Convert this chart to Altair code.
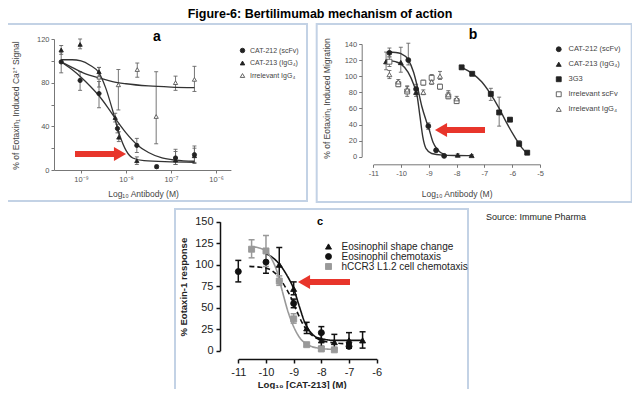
import altair as alt
import pandas as pd

FONT = "Liberation Sans"
W, H = 624, 381
RED = "#e8352b"
BOX = "#c3d2e5"

# ---------------- Panel a data ----------------
a_names = ["CAT-212 (scFv)", "CAT-213 (IgG₄)", "Irrelevant IgG₄"]
a1_x = [-9.44, -9.02, -8.6, -8.19, -7.76, -7.32, -6.9, -6.48]
a1_y = [99, 82, 70, 38, 22.5, 3, 11, 14]
a1_lo = [89, 73, 57, 34, 16, 1.5, 5, 6]
a1_hi = [108, 90, 81, 42, 29, 4.5, 19, 22]
a2_x = [-9.44, -9.02, -8.6, -8.24, -8.16, -7.76, -6.9, -6.48]
a2_y = [110, 115, 90, 48, 30, 8.5, 9, 13]
a2_lo = [106, 111, 86, 44, 26, 5, 5, 7]
a2_hi = [114, 120, 94, 52, 35, 12, 17, 20]
a3_x = [-8.6, -8.17, -7.75, -7.33, -6.9, -6.48]
a3_y = [85, 78, 92, 49, 80, 83]
a3_lo = [76, 55, 85, 24, 73, 72]
a3_hi = [94, 92, 98, 90, 86, 95]
# fitted curves
a1c_x = [-9.44, -9.2, -9.0, -8.8, -8.6, -8.4, -8.2, -8.0, -7.75, -7.5, -7.2, -6.9, -6.48]
a1c_y = [99, 92, 85, 77, 68, 57, 45, 34, 23, 16, 11, 9, 8]
a2c_x = [-9.44, -9.2, -9.0, -8.8, -8.6, -8.45, -8.3, -8.15, -8.0, -7.85, -7.6, -7.0, -6.48]
a2c_y = [101, 101, 100, 96, 89, 75, 55, 33, 18, 11, 8.5, 7.5, 7]
a3c_x = [-9.44, -9.2, -8.9, -8.6, -8.3, -8.0, -7.5, -7.0, -6.48]
a3c_y = [99, 94, 88, 84.5, 81, 79, 77, 76, 75.5]

# ---------------- Panel b data ----------------
b_names = ["CAT-212 (scFv)", "CAT-213 (IgG₄)", "3G3", "Irrelevant scFv", "Irrelevant IgG₄"]
b1_x = [-10.42, -9.74, -9.46, -9.02, -8.74, -8.45]
b1_y = [129, 120, 84, 38, 8, 1]
b1_lo = [124, 114, 78, 34, 6, 0]
b1_hi = [135, 141, 90, 42, 10, 3]
b2_x = [-10.54, -10.01, -9.46, -7.96, -7.46]
b2_y = [118, 117, 80, 2, 1.5]
b2_lo = [108, 105, 75, 0.5, 0.5]
b2_hi = [130, 136, 86, 3.5, 2.5]
b3_x = [-7.82, -7.44, -6.77, -6.47, -6.08, -5.75, -5.46]
b3_y = [111, 103, 78, 55, 46, 16, 5]
b3_lo = [109, 101, 70, 38, 44, 14, 3]
b3_hi = [113, 105, 85, 74, 48, 20, 7]
b4_x = [-10.42, -10.1, -9.78, -9.2, -8.9, -8.6, -8.3, -8.0]
b4_y = [118, 90, 81, 92, 98, 87, 75, 69]
b4_lo = [112, 87, 75, 89, 94, 84, 72, 66]
b4_hi = [124, 93, 88, 95, 102, 90, 80, 72]
b5_x = [-10.42, -10.1, -9.78, -9.2, -8.9, -8.6, -8.3, -8.0]
b5_y = [102, 93, 83, 80, 93, 100, 77, 72]
b5_lo = [97, 90, 79, 77, 90, 96, 73, 69]
b5_hi = [107, 96, 87, 83, 96, 106, 82, 75]
b1c_x = [-10.45, -10.2, -10.0, -9.75, -9.55, -9.4, -9.25, -9.1, -9.0, -8.85, -8.7, -8.45]
b1c_y = [130, 129.5, 128, 121, 105, 85, 62, 45, 35, 18, 9, 3]
b2c_x = [-10.55, -10.2, -10.0, -9.75, -9.55, -9.42, -9.32, -9.22, -9.1, -8.9, -8.5, -8.0, -7.46]
b2c_y = [120, 118, 115, 105, 90, 75, 50, 25, 10, 4, 2, 1.5, 1.3]
b3c_x = [-7.82, -7.44, -7.1, -6.8, -6.5, -6.2, -5.9, -5.65, -5.46]
b3c_y = [111, 103.5, 93, 79, 62, 42, 24, 11, 4]

# ---------------- Panel c data ----------------
c_names = ["Eosinophil shape change", "Eosinophil chemotaxis", "hCCR3 L1.2 cell chemotaxis"]
c1_x = [-9.52, -9.0, -8.53, -8.0, -7.53, -7.0, -6.51]
c1_y = [100, 72, 26, 12, 10, 12, 12]
c1_lo = [81, 65, 20, 5, 2, 3, 3]
c1_hi = [120, 80, 33, 20, 19, 21, 22]
c2_x = [-11.0, -10.0, -9.0, -8.0, -7.0]
c2_y = [92, 103, 55, 21, 5]
c2_lo = [80, 90, 50, 13, 3]
c2_hi = [105, 116, 60, 28, 8]
c3_x = [-10.52, -10.0, -9.52, -9.0, -8.53, -8.0, -7.53]
c3_y = [118, 116, 81, 37, 7, 2, 1]
c3_lo = [108, 98, 76, 32, 5, 0, 0]
c3_hi = [129, 134, 87, 43, 9, 4, 3]
c1c_x = [-10.0, -9.75, -9.5, -9.25, -9.0, -8.8, -8.6, -8.4, -8.2, -8.0, -7.5, -7.0, -6.5]
c1c_y = [113, 108, 100, 88, 72, 52, 33, 22, 16, 14, 12, 12, 12]
c2c_x = [-10.6, -10.2, -9.9, -9.6, -9.3, -9.1, -8.9, -8.7, -8.5, -8.2, -8.0, -7.5, -7.0]
c2c_y = [98, 97, 95, 88, 74, 62, 47, 33, 23, 15, 12, 9, 8]
c3c_x = [-10.52, -10.2, -10.0, -9.8, -9.6, -9.4, -9.2, -9.0, -8.8, -8.5, -8.0, -7.5]
c3c_y = [121, 119, 116, 107, 92, 68, 45, 28, 16, 7, 2.5, 1.5]


def pts_df(names, xs, ys, los, his):
    frames = [pd.DataFrame({"series": n, "x": x, "y": y, "lo": lo, "hi": hi})
              for n, x, y, lo, hi in zip(names, xs, ys, los, his)]
    return pd.concat(frames, ignore_index=True)


def cap_df(pdf):
    lo = pdf[["series", "x", "lo"]].rename(columns={"lo": "cap"})
    hi = pdf[["series", "x", "hi"]].rename(columns={"hi": "cap"})
    return pd.concat([lo, hi], ignore_index=True)


def curve_df(names, xs, ys):
    frames = [pd.DataFrame({"series": n, "x": x, "y": y}) for n, x, y in zip(names, xs, ys)]
    return pd.concat(frames, ignore_index=True)


def axis_style(small=True):
    if small:
        return dict(grid=False, labelFont=FONT, labelFontSize=7.5, labelColor="#555",
                    domainColor="#777", tickColor="#777", tickSize=3, labelPadding=2,
                    titleFont=FONT, titleFontSize=8.5, titleColor="#444",
                    titleFontWeight="normal", titleBaseline="middle",
                    labelFlush=False, labelOverlap=False, labelBound=False)
    return dict(grid=False, labelFont=FONT, labelFontSize=11, labelColor="#222",
                domainColor="#111", tickColor="#111", tickSize=4, domainWidth=1.5,
                tickWidth=1.5, labelPadding=3, titleFont=FONT, titleFontSize=9.5,
                titleColor="#222", titleFontWeight="bold", titleBaseline="middle",
                labelFlush=False, labelOverlap=False, labelBound=False)


def panel(pdf, cdf, xsc, xax, ysc, yax, shape, fill, stroke, psize, capw,
          err_color, err_w, line_layers):
    X = alt.X("x:Q", scale=xsc, axis=xax)
    rules = alt.Chart(pdf).mark_rule(color=err_color, strokeWidth=err_w).encode(
        x=X, y=alt.Y("lo:Q", scale=ysc, axis=yax), y2="hi:Q")
    caps = alt.Chart(cap_df(pdf)).mark_tick(orient="horizontal", size=capw, thickness=err_w,
                                            color=err_color, opacity=1).encode(
        x=X, y=alt.Y("cap:Q", scale=ysc, axis=yax))
    points = alt.Chart(pdf).mark_point(size=psize, opacity=1, strokeWidth=0.9, filled=True).encode(
        x=X, y=alt.Y("y:Q", scale=ysc, axis=yax), shape=shape, fill=fill, stroke=stroke)
    lines = [ly(X, alt.Y("y:Q", scale=ysc, axis=yax)) for ly in line_layers]
    return alt.layer(rules, caps, *lines, points)


# ---------------- Panel a ----------------
a_pts = pts_df(a_names, [a1_x, a2_x, a3_x], [a1_y, a2_y, a3_y], [a1_lo, a2_lo, a3_lo], [a1_hi, a2_hi, a3_hi])
a_cur = curve_df(a_names, [a1c_x, a2c_x, a3c_x], [a1c_y, a2c_y, a3c_y])
xa_sc = alt.Scale(domain=[-9.6, -5.67], range=[46, 222.9], nice=False, zero=False)
ya_sc = alt.Scale(domain=[0, 120], range=[162, 31], nice=False, zero=False)
xa_ax = alt.Axis(orient="bottom", offset=-219, values=[-9, -8, -7, -6],
                 labelExpr="datum.value == -9 ? '10⁻⁹' : datum.value == -8 ? '10⁻⁸' : datum.value == -7 ? '10⁻⁷' : '10⁻⁶'",
                 title="Log₁₀ Antibody (M)", titleX=135, titleY=23, **axis_style())
ya_ax = alt.Axis(orient="left", offset=-46, values=[0, 20, 40, 60, 80, 100, 120],
                 labelExpr="datum.value % 40 == 0 ? datum.label : ''",
                 title="% of Eotaxin₁ Induced Ca²⁺ Signal", titleX=-39, titleY=97, **axis_style())
leg_a = alt.Legend(orient="none", legendX=231, legendY=39, title=None, labelFont=FONT,
                   labelFontSize=7, labelColor="#444", symbolSize=20, rowPadding=3.5,
                   labelOffset=4, padding=0, symbolStrokeWidth=0.9)
a_shape = alt.Shape("series:N", scale=alt.Scale(domain=a_names, range=["circle", "triangle-up", "triangle-up"]), legend=leg_a)
a_fill = alt.Fill("series:N", scale=alt.Scale(domain=a_names, range=["#222", "#222", "#ffffff"]), legend=leg_a)
a_stroke = alt.Stroke("series:N", scale=alt.Scale(domain=a_names, range=["#222", "#222", "#555"]), legend=leg_a)


def a_lines(X, Y):
    return alt.Chart(a_cur).mark_line(interpolate="monotone", color="#333", strokeWidth=1.3).encode(
        x=X, y=Y, detail="series:N")


panel_a = panel(a_pts, a_cur, xa_sc, xa_ax, ya_sc, ya_ax, a_shape, a_fill, a_stroke, 18, 4,
                "#666", 0.9, [a_lines])

# ---------------- Panel b ----------------
b_pts = pts_df(b_names, [b1_x, b2_x, b3_x, b4_x, b5_x], [b1_y, b2_y, b3_y, b4_y, b5_y],
               [b1_lo, b2_lo, b3_lo, b4_lo, b5_lo], [b1_hi, b2_hi, b3_hi, b4_hi, b5_hi])
b_cur = curve_df(b_names[:3], [b1c_x, b2c_x, b3c_x], [b1c_y, b2c_y, b3c_y])
xb_sc = alt.Scale(domain=[-11, -5], range=[365.3, 532], nice=False, zero=False)
yb_sc = alt.Scale(domain=[0, 140], range=[148.7, 36], nice=False, zero=False)
xb_ax = alt.Axis(orient="bottom", offset=-224.7, values=[-11, -10, -9, -8, -7, -6, -5],
                 labelExpr="'-' + (-datum.value)",
                 title="Log₁₀ Antibody (M)", titleX=448.7, titleY=29, **axis_style())
yb_ax = alt.Axis(orient="left", offset=-353.7, values=[0, 20, 40, 60, 80, 100, 120, 140],
                 title="% of Eotaxin₁ Induced Migration", titleX=-35, titleY=90, **axis_style())
leg_b = alt.Legend(orient="none", legendX=547, legendY=37.5, title=None, labelFont=FONT,
                   labelFontSize=7.5, labelColor="#444", symbolSize=24, rowPadding=6,
                   labelOffset=6, padding=0, symbolStrokeWidth=0.9)
b_shape = alt.Shape("series:N", scale=alt.Scale(domain=b_names, range=["circle", "triangle-up", "square", "square", "triangle-up"]), legend=leg_b)
b_fill = alt.Fill("series:N", scale=alt.Scale(domain=b_names, range=["#222", "#222", "#222", "#ffffff", "#ffffff"]), legend=leg_b)
b_stroke = alt.Stroke("series:N", scale=alt.Scale(domain=b_names, range=["#222", "#222", "#222", "#555", "#555"]), legend=leg_b)


def b_lines(X, Y):
    return alt.Chart(b_cur).mark_line(interpolate="monotone", color="#333", strokeWidth=1.4).encode(
        x=X, y=Y, detail="series:N")


panel_b = panel(b_pts, b_cur, xb_sc, xb_ax, yb_sc, yb_ax, b_shape, b_fill, b_stroke, 24, 4,
                "#666", 0.9, [b_lines])

# ---------------- Panel c ----------------
c_pts = pts_df(c_names, [c1_x, c2_x, c3_x], [c1_y, c2_y, c3_y], [c1_lo, c2_lo, c3_lo], [c1_hi, c2_hi, c3_hi])
c_cur = curve_df(c_names, [c1c_x, c2c_x, c3c_x], [c1c_y, c2c_y, c3c_y])
xc_sc = alt.Scale(domain=[-11, -6], range=[230.3, 368.7], nice=False, zero=False)
yc_sc = alt.Scale(domain=[0, 150], range=[342.7, 213.7], nice=False, zero=False)
xc_ax = alt.Axis(orient="bottom", offset=-30, values=[-11, -10, -9, -8, -7, -6],
                 labelExpr="'-' + (-datum.value)",
                 title="Log₁₀ [CAT-213] (M)", titleX=293.7, titleY=25, **axis_style(False))
yc_ax = alt.Axis(orient="left", offset=-212, values=[0, 25, 50, 75, 100, 125, 150],
                 title="% Eotaxin-1 response", titleX=-36.7, titleY=278.7, **axis_style(False))
leg_c = alt.Legend(orient="none", legendX=315.5, legendY=233.5, title=None, labelFont=FONT,
                   labelFontSize=10, labelColor="#222", symbolSize=36, rowPadding=0,
                   labelOffset=8, padding=0, symbolStrokeWidth=0.9)
c_col = ["#111", "#111", "#999"]
c_shape = alt.Shape("series:N", scale=alt.Scale(domain=c_names, range=["triangle-up", "circle", "square"]), legend=leg_c)
c_fill = alt.Fill("series:N", scale=alt.Scale(domain=c_names, range=c_col), legend=leg_c)
c_stroke = alt.Stroke("series:N", scale=alt.Scale(domain=c_names, range=c_col), legend=leg_c)

Xc = alt.X("x:Q", scale=xc_sc, axis=xc_ax)
c_layers = []
for name, col in zip(c_names, c_col):
    sub = c_pts[c_pts["series"] == name]
    c_layers.append(alt.Chart(sub).mark_rule(color=col, strokeWidth=1.5).encode(
        x=Xc, y=alt.Y("lo:Q", scale=yc_sc, axis=yc_ax), y2="hi:Q"))
    c_layers.append(alt.Chart(cap_df(sub)).mark_tick(orient="horizontal", size=6, thickness=1.5,
                                                      color=col, opacity=1).encode(
        x=Xc, y=alt.Y("cap:Q", scale=yc_sc, axis=yc_ax)))
for name, col, dash in zip(c_names, c_col, [[1, 0], [5, 3], [1, 0]]):
    sub = c_cur[c_cur["series"] == name]
    c_layers.append(alt.Chart(sub).mark_line(interpolate="monotone", color=col, strokeWidth=1.6,
                                             strokeDash=dash).encode(
        x=Xc, y=alt.Y("y:Q", scale=yc_sc, axis=yc_ax)))
c_layers.append(alt.Chart(c_pts).mark_point(size=36, opacity=1, strokeWidth=0.9, filled=True).encode(
    x=Xc, y=alt.Y("y:Q", scale=yc_sc, axis=yc_ax), shape=c_shape, fill=c_fill, stroke=c_stroke))
panel_c = alt.layer(*c_layers)

# ---------------- Decorations ----------------
one = pd.DataFrame({"d": [0]})


def box(x1, x2, y1, y2):
    return alt.Chart(one).mark_rect(fill="#ffffff", fillOpacity=0, stroke=BOX, strokeWidth=2).encode(
        x=alt.value(x1), x2=alt.value(x2), y=alt.value(y1), y2=alt.value(y2))


def label(txt, x, y, size, weight="normal", align="center", color="#000"):
    return alt.Chart(one).mark_text(text=txt, font=FONT, fontSize=size, fontWeight=weight,
                                    align=align, baseline="middle", color=color).encode(
        x=alt.value(x), y=alt.value(y))


def arrow(x_tail, x_tip, y, direction):
    head = 12
    if direction == "right":
        shaft_end = x_tip - head
        cx = x_tip - head / 2
        shp = "triangle-right"
    else:
        shaft_end = x_tip + head
        cx = x_tip + head / 2
        shp = "triangle-left"
    shaft = alt.Chart(one).mark_rule(color=RED, strokeWidth=6).encode(
        x=alt.value(x_tail), x2=alt.value(shaft_end), y=alt.value(y))
    tip = alt.Chart(one).mark_point(shape=shp, filled=True, color=RED, size=196, opacity=1).encode(
        x=alt.value(cx), y=alt.value(y))
    return [shaft, tip]


decor_back = [box(-5.5, 299, 16, 193), box(308.7, 623.7, 16, 194), box(167, 460, 201, 386)]
decor_front = [
    alt.Chart(one).mark_text(text="Figure-6: Bertilimumab mechanism of action", font=FONT,
                             fontSize=12.5, fontWeight="bold", align="center", baseline="top",
                             color="#000").encode(x=alt.value(312), y=alt.value(0)),
    label("a", 149, 29, 14, "bold"),
    label("b", 465, 27, 14, "bold"),
    label("c", 312, 214, 11, "bold"),
    label("Source: Immune Pharma", 478, 209, 9, align="left", color="#222"),
] + arrow(67, 118, 146, "right") + arrow(477, 427, 122, "left") + arrow(342, 290, 274, "left")

chart = alt.layer(*decor_back, panel_a, panel_b, panel_c, *decor_front).resolve_scale(
    x="independent", y="independent", shape="independent", fill="independent",
    stroke="independent").properties(
    width=W, height=H, autosize=alt.AutoSizeParams(type="none"), padding=0,
    background="white").configure_view(stroke=None)

chart.save("out.html", embed_options={"renderer": "svg", "actions": False})
